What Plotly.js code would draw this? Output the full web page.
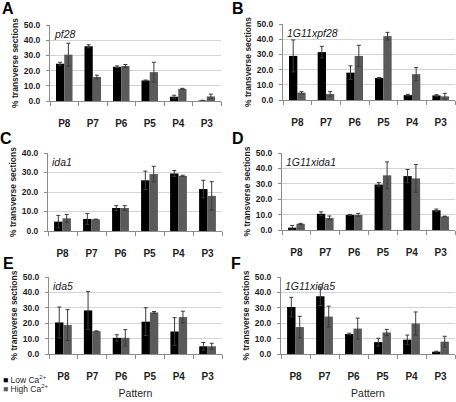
<!DOCTYPE html>
<html><head><meta charset="utf-8">
<script src="https://cdn.plot.ly/plotly-3.0.1.min.js"></script>
<style>html,body{margin:0;padding:0;background:#fff}#chart{width:456px;height:402px}</style>
</head><body><div id="chart"></div>
<script>
const patterns = ['P8','P7','P6','P5','P4','P3'];

// A: pf28
const aLow = [24.5, 36.0, 22.5, 13.5, 2.8, 0.3];
const aLowErr = [1.0, 1.0, 0.6, 0.3, 1.0, 0.2];
const aHigh = [30.5, 15.8, 23.0, 19.0, 8.0, 3.0];
const aHighErr = [7.5, 1.2, 1.0, 6.5, 0.3, 1.5];
// B: 1G11xpf28
const bLow = [29.0, 31.5, 18.0, 14.5, 3.2, 3.0];
const bLowErr = [10.5, 3.8, 4.5, 0.3, 0.5, 0.5];
const bHigh = [4.8, 4.0, 29.0, 42.0, 17.0, 2.4];
const bHighErr = [0.7, 1.5, 7.0, 2.5, 4.3, 2.0];
// C: ida1
const cLow = [4.8, 6.2, 11.8, 26.0, 29.5, 21.5];
const cLowErr = [3.2, 2.8, 1.2, 4.7, 1.5, 4.5];
const cHigh = [6.5, 6.0, 11.8, 29.2, 28.3, 18.0];
const cHighErr = [2.0, 0.1, 1.2, 4.0, 0.3, 7.3];
// D: 1G11xida1
const dLow = [1.5, 10.5, 9.8, 29.5, 35.0, 12.8];
const dLowErr = [1.5, 1.3, 0.3, 1.3, 4.3, 0.8];
const dHigh = [4.0, 7.8, 9.8, 35.5, 33.5, 8.8];
const dHighErr = [0.3, 1.3, 1.0, 8.7, 9.0, 0.2];
// E: ida5
const eLow = [20.5, 28.3, 10.5, 21.0, 14.6, 5.0];
const eLowErr = [10.0, 12.2, 2.0, 9.0, 9.0, 2.5];
const eHigh = [18.8, 14.8, 10.5, 27.0, 24.0, 5.0];
const eHighErr = [10.0, 0.2, 5.3, 0.6, 3.8, 2.0];
// F: 1G11xida5
const fLow = [30.5, 37.5, 13.0, 7.7, 9.3, 1.5];
const fLowErr = [6.3, 6.0, 0.5, 2.5, 3.0, 0.3];
const fHigh = [17.5, 24.3, 16.5, 14.0, 19.8, 8.0];
const fHighErr = [7.0, 6.8, 6.8, 2.0, 7.5, 3.5];

const panelLetters = ['A','B','C','D','E','F'];
const geneLabels = ['pf28','1G11xpf28','ida1','1G11xida1','ida5','1G11xida5'];
const yMax = [50, 50, 40, 50, 50, 50];
const seriesNames = ['Low Ca<sup>2+</sup>', 'High Ca<sup>2+</sup>'];

const W = 456, H = 402;
const boxes = [
  {l:50, r:221, t:25, b:101},
  {l:283, r:455, t:24, b:100},
  {l:48, r:222, t:153, b:231},
  {l:282, r:455, t:153, b:230},
  {l:49, r:222, t:277, b:354},
  {l:281, r:455, t:277, b:354}
];
const letterPos = [[8,9],[238,9],[6,139],[238,139],[8,263],[236,263]];

const panels = [
  [aLow,aLowErr,aHigh,aHighErr],
  [bLow,bLowErr,bHigh,bHighErr],
  [cLow,cLowErr,cHigh,cHighErr],
  [dLow,dLowErr,dHigh,dHighErr],
  [eLow,eLowErr,eHigh,eHighErr],
  [fLow,fLowErr,fHigh,fHighErr]
];
const lowColor = '#000000', highColor = '#5a5a5a';
const errColor = '#3a3a3a';
const txt = '#1f1f1f';

const data = [];
const layout = {
  width: W, height: H,
  margin: {l:0, r:0, t:0, b:0},
  paper_bgcolor: '#fff', plot_bgcolor: '#fff',
  showlegend: false,
  barmode: 'group', bargap: 0.42, bargroupgap: 0,
  font: {family: 'Liberation Sans, Arial, sans-serif', color: txt},
  annotations: [], shapes: []
};

panels.forEach((p, i) => {
  const n = i === 0 ? '' : String(i + 1);
  const xa = 'x' + n, ya = 'y' + n;
  [0, 1].forEach(k => {
    data.push({
      type: 'bar', x: patterns, y: p[k*2], name: seriesNames[k],
      xaxis: xa, yaxis: ya,
      marker: {color: k === 0 ? lowColor : highColor, line: {width: 0}},
      error_y: {type: 'data', array: p[k*2+1], visible: true, color: errColor, thickness: 1, width: 2}
    });
  });
  const bx = boxes[i];
  const xaxis = {
    domain: [bx.l / W, bx.r / W], anchor: ya,
    type: 'category', showline: true, linecolor: '#8c8c8c', linewidth: 1,
    ticks: 'outside', tickson: 'boundaries', ticklen: 4, tickcolor: '#8c8c8c',
    tickfont: {size: 10, color: txt, weight: 'bold'},
    ticklabelstandoff: 13,
    showgrid: false, fixedrange: true
  };
  if (i >= 4) xaxis.title = {text: 'Pattern', font: {size: 10.5, color: txt}, standoff: 8};
  layout['xaxis' + n] = xaxis;
  layout['yaxis' + n] = {
    domain: [1 - bx.b / H, 1 - bx.t / H], anchor: xa,
    range: [0, yMax[i]], dtick: 10, tickformat: '.1f',
    showline: true, linecolor: '#8c8c8c', linewidth: 1,
    ticks: 'outside', ticklen: 3, tickcolor: '#8c8c8c',
    showgrid: true, gridcolor: '#d4d4d4', gridwidth: 1,
    zeroline: false,
    tickfont: {size: 8.5, color: txt, weight: 'bold'},
    ticklabelstandoff: 4,
    fixedrange: true,
    title: {text: '% transverse sections', font: {size: 8.5, color: txt, weight: 'bold'}, standoff: 3}
  };
  layout.annotations.push({
    text: panelLetters[i], xref: 'paper', yref: 'paper',
    x: letterPos[i][0] / W, y: 1 - letterPos[i][1] / H,
    xanchor: 'center', yanchor: 'middle', showarrow: false,
    font: {size: 16, color: '#000', weight: 'bold'}
  });
  layout.annotations.push({
    text: '<i>' + geneLabels[i] + '</i>', xref: 'paper', yref: 'paper',
    x: (bx.l + 2) / W, y: 1 - (bx.t + 1) / H,
    xanchor: 'left', yanchor: 'top', showarrow: false,
    font: {size: 10.5, color: '#1a1a1a'}
  });
});

// legend (drawn as annotations)
[0, 1].forEach(k => {
  layout.annotations.push({
    text: '<span style="color:' + (k === 0 ? lowColor : highColor) + '">■</span> ' + seriesNames[k],
    xref: 'paper', yref: 'paper', x: 1 / W, y: 1 - (379 + k * 9.5) / H,
    xanchor: 'left', yanchor: 'middle', showarrow: false,
    font: {size: 8.5, color: txt}
  });
});

Plotly.newPlot('chart', data, layout, {staticPlot: true, displayModeBar: false});
</script></body></html>
